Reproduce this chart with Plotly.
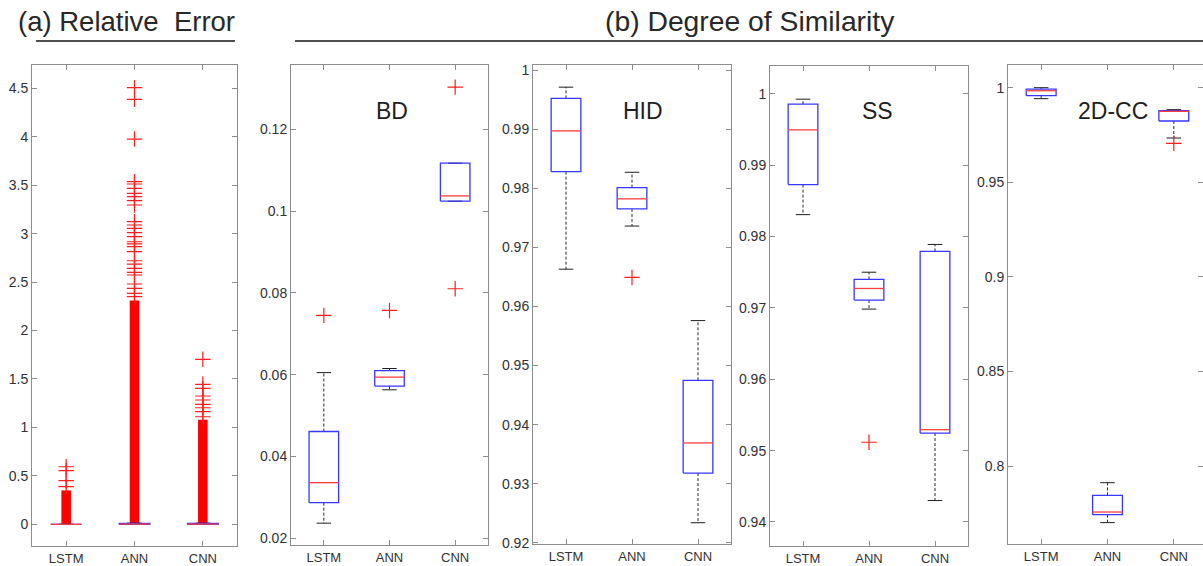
import plotly.graph_objects as go

W, H = 1203, 566

models = ["LSTM", "ANN", "CNN"]

# (a) Relative error
re_q1 = [0.0, 0.0, 0.0]
re_med = [0.0, 0.002, 0.002]
re_q3 = [0.0, 0.008, 0.008]
re_lo = [0.0, 0.0, 0.0]
re_hi = [0.0, 0.012, 0.012]
re_dense_top = [0.35, 2.31, 1.08]
re_out = [
    [0.388, 0.45, 0.553, 0.594],
    [2.349, 2.384, 2.435, 2.48, 2.573, 2.60, 2.642, 2.686, 2.72, 2.813, 2.865,
     2.893, 2.916, 2.968, 3.01, 3.054, 3.089, 3.123, 3.295, 3.34, 3.381,
     3.416, 3.467, 3.512, 3.536, 3.976, 4.386, 4.506],
    [1.11, 1.162, 1.203, 1.238, 1.283, 1.324, 1.403, 1.445, 1.703],
]

# (b) BD
bd_q1 = [0.0287, 0.0572, 0.1024]
bd_med = [0.0336, 0.0594, 0.1037]
bd_q3 = [0.0461, 0.0610, 0.1117]
bd_lo = [0.0237, 0.0563, 0.1024]
bd_hi = [0.0605, 0.0615, 0.1117]
bd_out = [[0.0745], [0.0757], [0.1303, 0.0810]]

# HID
hid_q1 = [0.9828, 0.9765, 0.9318]
hid_med = [0.9897, 0.9782, 0.9369]
hid_q3 = [0.9952, 0.9801, 0.9475]
hid_lo = [0.9663, 0.9736, 0.9234]
hid_hi = [0.9971, 0.9827, 0.9576]
hid_out = [[], [0.9649], []]

# SS
ss_q1 = [0.98728, 0.97109, 0.95246]
ss_med = [0.99495, 0.97272, 0.95293]
ss_q3 = [0.99855, 0.97399, 0.97791]
ss_lo = [0.98307, 0.96983, 0.9430]
ss_hi = [0.99925, 0.9750, 0.97889]
ss_out = [[], [0.95117], []]

# 2D-CC
cc_q1 = [0.9958, 0.7743, 0.9824]
cc_med = [0.9984, 0.7757, 0.9875]
cc_q3 = [0.9993, 0.7845, 0.9879]
cc_lo = [0.9942, 0.7701, 0.9734]
cc_hi = [1.0000, 0.7912, 0.9884]
cc_out = [[], [], [0.9706]]

panels = [
    dict(q1=re_q1, med=re_med, q3=re_q3, lo=re_lo, hi=re_hi, out=re_out,
         px=(32, 237), py=(65, 546), yr=(-0.224, 4.74), xr=(0.5, 3.5),
         ticks=[0, 0.5, 1, 1.5, 2, 2.5, 3, 3.5, 4, 4.5],
         ticktext=["0", "0.5", "1", "1.5", "2", "2.5", "3", "3.5", "4", "4.5"],
         label=None),
    dict(q1=bd_q1, med=bd_med, q3=bd_q3, lo=bd_lo, hi=bd_hi, out=bd_out,
         px=(291, 488), py=(65, 545), yr=(0.01836, 0.1357), xr=(0.5, 3.5),
         ticks=[0.02, 0.04, 0.06, 0.08, 0.1, 0.12],
         ticktext=["0.02", "0.04", "0.06", "0.08", "0.1", "0.12"],
         label="BD"),
    dict(q1=hid_q1, med=hid_med, q3=hid_q3, lo=hid_lo, hi=hid_hi, out=hid_out,
         px=(533, 731), py=(65, 544), yr=(0.9198, 1.00085), xr=(0.5, 3.5),
         ticks=[0.92, 0.93, 0.94, 0.95, 0.96, 0.97, 0.98, 0.99, 1.0],
         ticktext=["0.92", "0.93", "0.94", "0.95", "0.96", "0.97", "0.98", "0.99", "1"],
         label="HID"),
    dict(q1=ss_q1, med=ss_med, q3=ss_q3, lo=ss_lo, hi=ss_hi, out=ss_out,
         px=(770, 968), py=(66, 546), yr=(0.93663, 1.0039), xr=(0.5, 3.5),
         ticks=[0.94, 0.95, 0.96, 0.97, 0.98, 0.99, 1.0],
         ticktext=["0.94", "0.95", "0.96", "0.97", "0.98", "0.99", "1"],
         label="SS"),
    dict(q1=cc_q1, med=cc_med, q3=cc_q3, lo=cc_lo, hi=cc_hi, out=cc_out,
         px=(1008, 1203), py=(65, 544), yr=(0.7588, 1.012), xr=(0.5, 3.44),
         ticks=[0.8, 0.85, 0.9, 0.95, 1.0],
         ticktext=["0.8", "0.85", "0.9", "0.95", "1"],
         label="2D-CC"),
]


def fx(x):
    return x / W


def fy(y):
    return 1 - y / H


BOX_HW = 0.225
CAP_HW = 0.11
BLUE = "rgb(55,55,255)"
RED = "rgb(255,60,60)"
FRAME = "rgb(140,140,140)"
TXT = "rgb(50,50,50)"
FONT = "Liberation Sans, Arial, sans-serif"

fig = go.Figure()
layout = {}

for i, p in enumerate(panels):
    n = i + 1
    xa = "x" if n == 1 else f"x{n}"
    ya = "y" if n == 1 else f"y{n}"
    xpos = [1, 2, 3]

    if n == 1:
        fig.add_trace(go.Bar(x=xpos, y=re_dense_top, base=[0, 0, 0], width=0.14,
                             marker=dict(color="rgb(255,0,0)", line=dict(width=0)),
                             xaxis=xa, yaxis=ya, showlegend=False, hoverinfo="skip"))

    wx, wy = [], []
    for k, xc in enumerate(xpos):
        wx += [xc, xc, None, xc, xc, None]
        wy += [p["q3"][k], p["hi"][k], None, p["q1"][k], p["lo"][k], None]
    fig.add_trace(go.Scatter(x=wx, y=wy, mode="lines", xaxis=xa, yaxis=ya,
                             line=dict(color="rgb(40,40,40)", width=1, dash="3px,2px"),
                             showlegend=False, hoverinfo="skip"))
    cx, cy = [], []
    for k, xc in enumerate(xpos):
        cx += [xc - CAP_HW, xc + CAP_HW, None, xc - CAP_HW, xc + CAP_HW, None]
        cy += [p["hi"][k], p["hi"][k], None, p["lo"][k], p["lo"][k], None]
    fig.add_trace(go.Scatter(x=cx, y=cy, mode="lines", xaxis=xa, yaxis=ya,
                             line=dict(color="rgb(30,30,30)", width=1),
                             showlegend=False, hoverinfo="skip"))
    bx, by = [], []
    for k, xc in enumerate(xpos):
        bx += [xc - BOX_HW, xc + BOX_HW, xc + BOX_HW, xc - BOX_HW, xc - BOX_HW, None]
        by += [p["q1"][k], p["q1"][k], p["q3"][k], p["q3"][k], p["q1"][k], None]
    fig.add_trace(go.Scatter(x=bx, y=by, mode="lines", xaxis=xa, yaxis=ya,
                             line=dict(color=BLUE, width=1.3),
                             showlegend=False, hoverinfo="skip"))
    mx, my = [], []
    for k, xc in enumerate(xpos):
        mx += [xc - BOX_HW, xc + BOX_HW, None]
        my += [p["med"][k], p["med"][k], None]
    fig.add_trace(go.Scatter(x=mx, y=my, mode="lines", xaxis=xa, yaxis=ya,
                             line=dict(color=RED, width=1.3),
                             showlegend=False, hoverinfo="skip"))
    ox, oy = [], []
    for k, xc in enumerate(xpos):
        for v in p["out"][k]:
            ox.append(xc)
            oy.append(v)
    if ox:
        fig.add_trace(go.Scatter(x=ox, y=oy, mode="markers", xaxis=xa, yaxis=ya,
                                 marker=dict(symbol="cross-thin", size=11,
                                             line=dict(color="rgb(255,30,30)", width=1.2)),
                                 showlegend=False, hoverinfo="skip"))

    x0, x1 = p["px"]
    y0, y1 = p["py"]
    key_x = "xaxis" if n == 1 else f"xaxis{n}"
    key_y = "yaxis" if n == 1 else f"yaxis{n}"
    layout[key_x] = dict(domain=[fx(x0), min(fx(x1), 1.0)], anchor=ya, range=list(p["xr"]),
                         tickvals=xpos, ticktext=models, ticks="inside", ticklen=5,
                         tickcolor=FRAME, showline=True, linecolor=FRAME, linewidth=1,
                         mirror="ticks", showgrid=False, zeroline=False, automargin=False,
                         ticklabelstandoff=0,
                         tickfont=dict(family=FONT, size=13, color=TXT), fixedrange=True)
    layout[key_y] = dict(domain=[fy(y1), fy(y0)], anchor=xa, range=list(p["yr"]),
                         tickvals=p["ticks"], ticktext=p["ticktext"], ticks="inside",
                         ticklen=5, tickcolor=FRAME, showline=True, linecolor=FRAME,
                         linewidth=1, mirror="ticks", showgrid=False, zeroline=False,
                         automargin=False,
                         tickfont=dict(family=FONT, size=14, color=TXT), fixedrange=True)

annotations = []
label_pos = {"BD": 392, "HID": 643, "SS": 877, "2D-CC": 1113}
for p in panels:
    if p["label"]:
        annotations.append(dict(text=p["label"], x=fx(label_pos[p["label"]]), y=fy(111),
                                xref="paper", yref="paper", showarrow=False,
                                xanchor="center", yanchor="middle",
                                font=dict(family=FONT, size=23, color="rgb(30,30,30)")))
annotations.append(dict(text="(a) Relative  Error", x=fx(126), y=fy(21),
                        xref="paper", yref="paper", showarrow=False,
                        xanchor="center", yanchor="middle",
                        font=dict(family=FONT, size=27.5, color="rgb(40,40,40)")))
annotations.append(dict(text="(b) Degree of Similarity", x=fx(750), y=fy(21),
                        xref="paper", yref="paper", showarrow=False,
                        xanchor="center", yanchor="middle",
                        font=dict(family=FONT, size=28.3, color="rgb(40,40,40)")))

shapes = [
    dict(type="line", xref="paper", yref="paper", x0=fx(36), x1=fx(235),
         y0=fy(41), y1=fy(41), line=dict(color="rgb(80,80,80)", width=2)),
    dict(type="line", xref="paper", yref="paper", x0=fx(295), x1=fx(1203),
         y0=fy(41), y1=fy(41), line=dict(color="rgb(80,80,80)", width=2)),
]

fig.update_layout(template="none", width=W, height=H,
                  margin=dict(l=0, r=0, t=0, b=0, pad=0, autoexpand=False),
                  paper_bgcolor="white", plot_bgcolor="white",
                  annotations=annotations, shapes=shapes, showlegend=False,
                  **layout)

page_css = (
    "var de=document.documentElement, b=document.body;"
    "de.style.margin='0';de.style.padding='0';de.style.height='566px';de.style.overflow='hidden';"
    "b.style.margin='0';b.style.padding='0';b.style.height='566px';b.style.overflow='hidden';"
    "b.style.fontSize='0';b.style.lineHeight='0';"
)

fig.write_html("out.html", config={"displayModeBar": False}, post_script=page_css)
